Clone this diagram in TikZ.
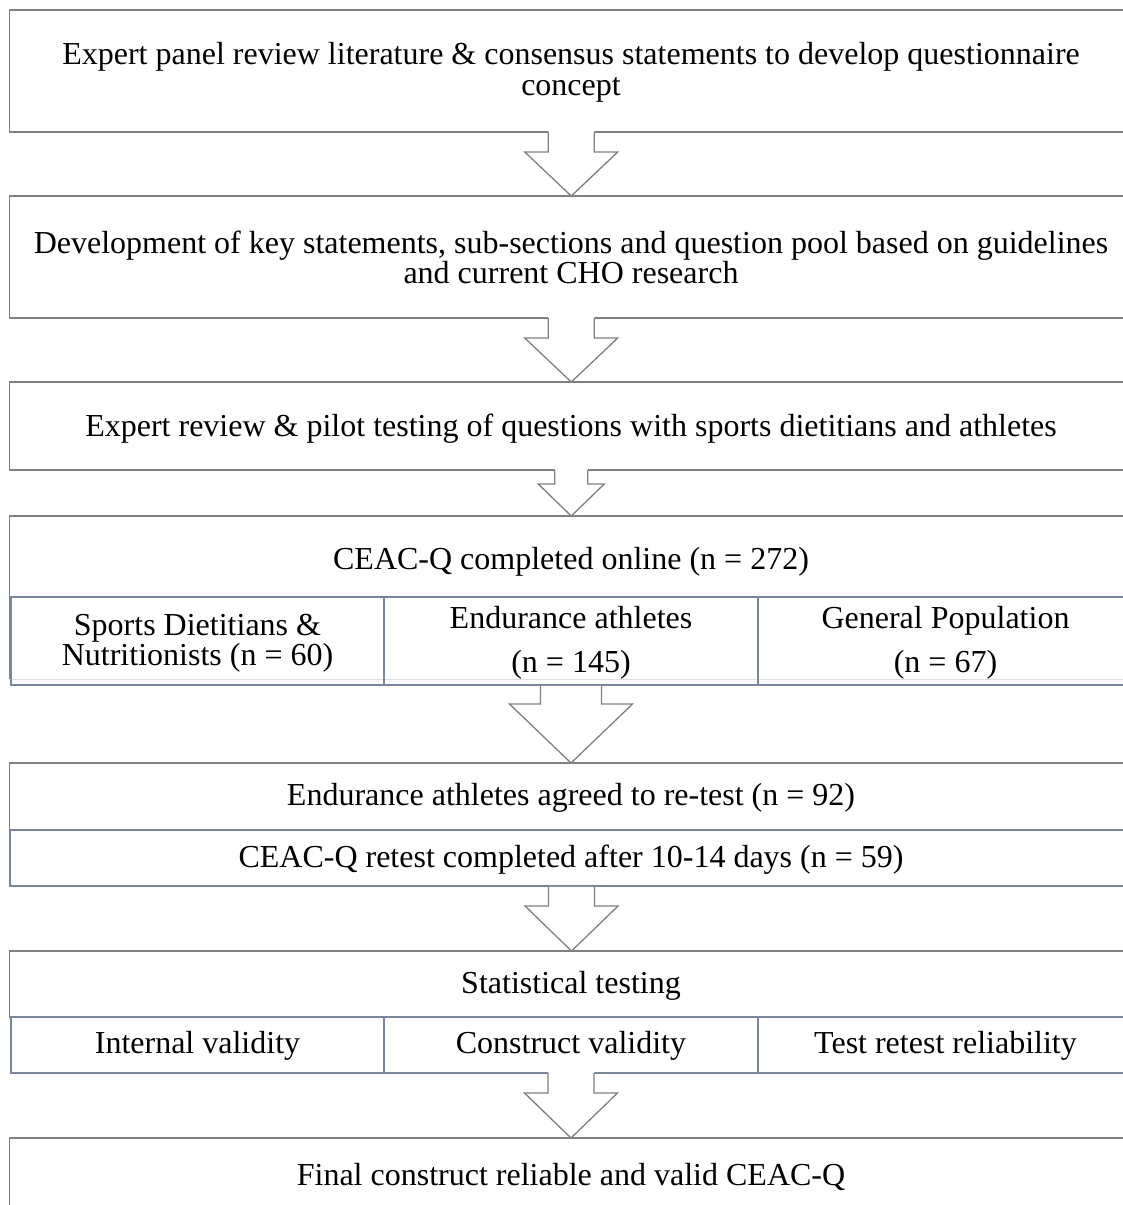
\documentclass[tikz,border=0pt]{standalone}
\usepackage{fontspec}
\setmainfont{Liberation Serif}
\usetikzlibrary{calc}
\definecolor{boxgray}{RGB}{128,128,128}
\definecolor{tablegray}{RGB}{122,134,154}
\definecolor{faintgray}{RGB}{222,222,222}

% Hollow block arrow pointing down from one node to the next.
% #1 from node, #2 to node, #3 shaft half-width, #4 head half-width,
% #5 shaft length, #6 vertical start of the white fill (negative hides the edge above)
\newcommand{\flowarrow}[6]{%
  \fill[white] ($(#1.south)+(-#3,#6)$) -- ($(#1.south)+(-#3,#5)$) -- ($(#1.south)+(-#4,#5)$)
     -- (#1.south |- #2.north) -- ($(#1.south)+(#4,#5)$) -- ($(#1.south)+(#3,#5)$)
     -- ($(#1.south)+(#3,#6)$) -- cycle;
  \draw[arrowline] ($(#1.south)+(-#3,0)$) -- ($(#1.south)+(-#3,#5)$) -- ($(#1.south)+(-#4,#5)$)
     -- (#1.south |- #2.north) -- ($(#1.south)+(#4,#5)$) -- ($(#1.south)+(#3,#5)$)
     -- ($(#1.south)+(#3,0)$);
}

\begin{document}
\begin{tikzpicture}[x=1pt,y=-1pt,
  box/.style={draw=boxgray,line width=1.3pt,rectangle,inner sep=0pt,outer sep=0pt},
  cell/.style={draw=tablegray,line width=1.3pt,rectangle,inner sep=0pt,outer sep=0pt},
  lbl/.style={font=\fontsize{32}{31}\selectfont,anchor=base,inner sep=0pt,outer sep=0pt},
  arrowline/.style={draw=boxgray,line width=1.3pt,line join=miter}]

\useasboundingbox (0,0) rectangle (1123,1205);
\clip (0,0) rectangle (1123,1205);
\fill[white] (0,0) rectangle (1123,1205);

% stage boxes (they run past the right edge)
\node[box, minimum width=1123.5pt, minimum height=122pt] (b1) at (571.25,71) {};
\node[box, minimum width=1123.5pt, minimum height=122pt] (b2) at (571.25,257) {};
\node[box, minimum width=1123.5pt, minimum height=88pt]  (b3) at (571.25,426) {};
\node[box, minimum width=1123.5pt, minimum height=81pt]  (b4) at (571.25,556.5) {};
\node[box, minimum width=1123.5pt, minimum height=67pt]  (b5) at (571.25,796.5) {};
\node[box, minimum width=1123.5pt, minimum height=66pt]  (b6) at (571.25,984) {};
\node[box, minimum width=1123.5pt, minimum height=100pt] (b7) at (571.25,1188) {};

% faint lower edge of the online-survey box
\draw[faintgray, line width=1pt] ($(b4.south west)+(0,82)$) -- ($(b4.south east)+(0,82)$);
\draw[boxgray, line width=1.3pt] (b4.south west) -- ($(b4.south west)+(0,82)$);

% arrows that hide the box edge they leave from
\flowarrow{b1}{b2}{23}{46.5}{20}{-1.5}
\flowarrow{b2}{b3}{23}{46.5}{20}{-1.5}
\flowarrow{b3}{b4}{16.5}{33}{14}{-1.5}

% sub-table of respondent groups
\node[cell, minimum width=373pt, minimum height=88pt] (r4a) at (197.5,641) {};
\node[cell, minimum width=374pt, minimum height=88pt] (r4b) at (571,641) {};
\node[cell, minimum width=375pt, minimum height=88pt] (r4c) at (945.5,641) {};

% retest row
\node[cell, minimum width=1123pt, minimum height=56pt] (r5) at (571.5,858) {};

% statistical testing row
\node[cell, minimum width=373pt, minimum height=56pt] (r6a) at (197.5,1045) {};
\node[cell, minimum width=374pt, minimum height=56pt] (r6b) at (571,1045) {};
\node[cell, minimum width=375pt, minimum height=56pt] (r6c) at (945.5,1045) {};

% arrows leaving the table rows keep the row edge visible
\flowarrow{r4b}{b5}{30.5}{61.5}{19}{0.8}
\flowarrow{r5}{b6}{23}{46.5}{20}{0.8}
\flowarrow{r6b}{b7}{23}{46.5}{20}{-1.5}

% texts
\node[lbl] (t1a) at (571,64) {Expert panel review literature \& consensus statements to develop questionnaire};
\node[lbl] (t1b) at (571,95) {concept};
\node[lbl] (t2a) at (571,253) {Development of key statements, sub-sections and question pool based on guidelines};
\node[lbl] (t2b) at (571,283) {and current CHO research};
\node[lbl] (t3) at (571,436) {Expert review \& pilot testing of questions with sports dietitians and athletes};
\node[lbl] (t4) at (571,569) {CEAC-Q completed online (n = 272)};
\node[lbl] (t4a1) at (197.5,635) {Sports Dietitians \&};
\node[lbl] (t4a2) at (197.5,665) {Nutritionists (n = 60)};
\node[lbl] (t4b1) at (571,628) {Endurance athletes};
\node[lbl] (t4b2) at (571,672) {(n = 145)};
\node[lbl] (t4c1) at (945.5,628) {General Population};
\node[lbl] (t4c2) at (945.5,672) {(n = 67)};
\node[lbl] (t5) at (571,805) {Endurance athletes agreed to re-test (n = 92)};
\node[lbl] (t5b) at (571,867) {CEAC-Q retest completed after 10-14 days (n = 59)};
\node[lbl] (t6) at (571,993) {Statistical testing};
\node[lbl] (t6a) at (197.5,1053) {Internal validity};
\node[lbl] (t6b) at (571,1053) {Construct validity};
\node[lbl] (t6c) at (945.5,1053) {Test retest reliability};
\node[lbl] (t7) at (571,1185) {Final construct reliable and valid CEAC-Q};
\end{tikzpicture}
\end{document}
